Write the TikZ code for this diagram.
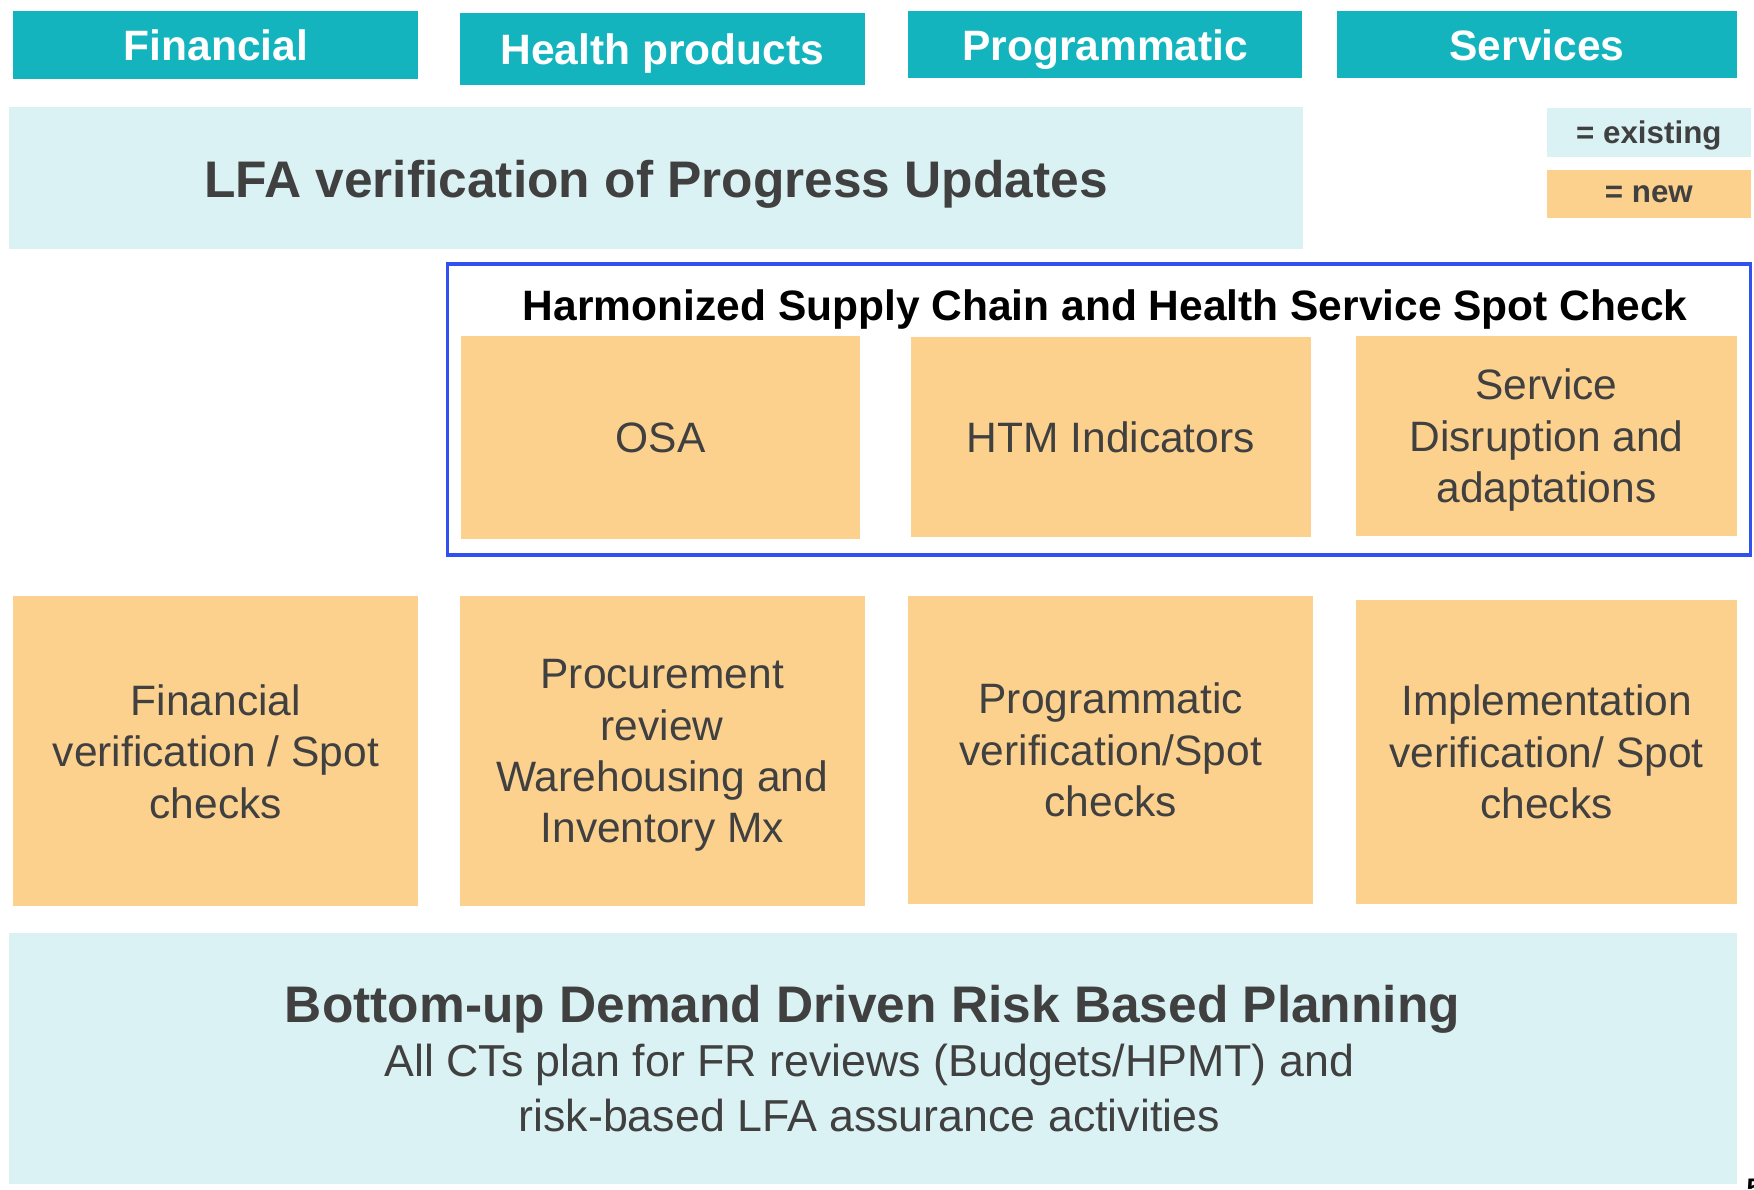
\documentclass[tikz,border=0pt]{standalone}
\usepackage{fontspec}
\setmainfont{Liberation Sans}
\definecolor{hdrcol}{HTML}{14B4BE}
\definecolor{oldcol}{HTML}{DBF2F4}
\definecolor{newcol}{HTML}{FCD18E}
\definecolor{ink}{HTML}{404040}
\definecolor{framecol}{HTML}{3050F0}

\begin{document}
\begin{tikzpicture}[x=.5pt,y=-.5pt,line width=.35pt,
  box/.style={inner sep=0pt,outer sep=0pt,align=center,text depth=0pt,text=ink,font=\fontsize{19}{23}\selectfont},
  hdr/.style={box,fill=hdrcol,text=white,font=\fontsize{19}{23}\selectfont\bfseries,minimum height=30pt},
  fresh/.style={box,fill=newcol},
  old/.style={box,fill=oldcol}]
\useasboundingbox (0,0) rectangle (1568,1063);
\node[hdr,minimum width=181pt,minimum height=30.5pt] (fin) at (193,40.5) {Financial};
\node[hdr,minimum width=181pt,minimum height=32pt] (hp) at (592,44) {Health products};
\node[hdr,minimum width=176pt] (prog) at (988,40) {Programmatic};\node[hdr,minimum width=179pt] (serv) at (1374,40) {Services};
\node[old,minimum width=578.5pt,minimum height=63.5pt,font=\fontsize{23}{28}\selectfont\bfseries] (lfa) at (586.5,159.5) {LFA verification of Progress Updates};
\node[old,minimum width=91pt,minimum height=21.5pt,font=\fontsize{14}{17}\selectfont\bfseries] (kold) at (1474,118.5) {= existing};
\node[fresh,minimum width=91pt,minimum height=21.5pt,font=\fontsize{14}{17}\selectfont\bfseries] (knew) at (1474,173.5) {= new};
\node[draw=framecol,line width=1.5pt,inner sep=0pt,minimum width=582.5pt,minimum height=130pt] (spot) at (982.5,366) {};
\node[box,text=black,font=\fontsize{19}{23}\selectfont\bfseries] (spottitle) at (988,273) {Harmonized Supply Chain and Health Service Spot Check};
\node[fresh,minimum width=178.5pt,minimum height=91pt] (osa) at (590.5,391) {OSA};
\node[fresh,minimum width=179pt,minimum height=89.5pt] (htm) at (993,390.5) {HTM Indicators};
\node[fresh,minimum width=170.5pt,minimum height=89.5pt] (sdis) at (1382.5,389.5) {Service\\Disruption and\\adaptations};
\node[fresh,minimum width=181pt,minimum height=138.5pt] (finv) at (193,671.5) {Financial\\verification / Spot\\checks};
\node[fresh,minimum width=181pt,minimum height=138.5pt] (proc) at (592,671.5) {Procurement\\review\\Warehousing and\\Inventory Mx};
\node[fresh,minimum width=181pt,minimum height=137.5pt] (progv) at (993,670.5) {Programmatic\\verification/Spot\\checks};
\node[fresh,minimum width=170.5pt,minimum height=136pt] (impl) at (1382.5,672) {Implementation\\verification/ Spot\\checks};
\node[old,minimum width=772.5pt,minimum height=112pt] (plan) at (780.5,946) {};
\node[box,font=\fontsize{23}{28}\selectfont\bfseries] (plantitle) at (780,897) {Bottom-up Demand Driven Risk Based Planning};
\node[box,font=\fontsize{20}{24.5}\selectfont] (plantext) at (777,972.5) {All CTs plan for FR reviews (Budgets/HPMT) and\\risk-based LFA assurance activities};
\node[anchor=north west,inner sep=0pt,font=\fontsize{12}{14}\selectfont\bfseries] (pnum) at (1561,1054) {5};
\end{tikzpicture}
\end{document}
